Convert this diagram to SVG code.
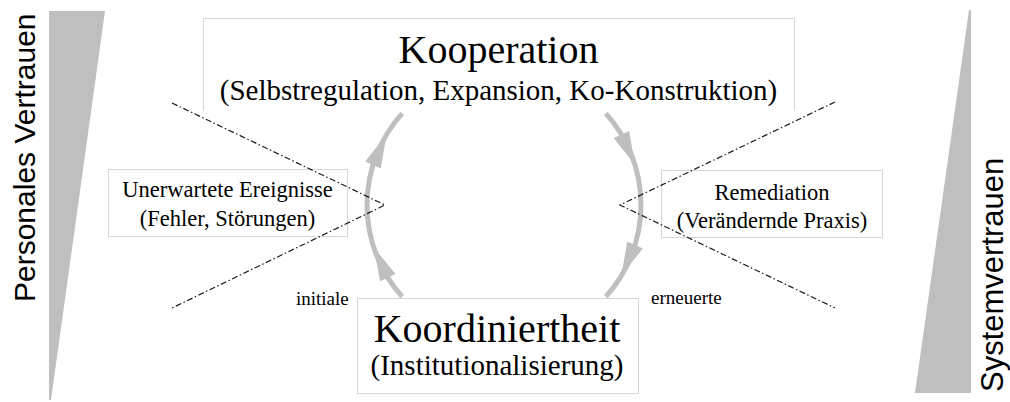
<svg xmlns="http://www.w3.org/2000/svg" width="1010" height="402" viewBox="0 0 1010 402">
<style>
.serif{font-family:"Liberation Serif","Times New Roman",serif;fill:#000}
.sans{font-family:"Liberation Sans",Arial,sans-serif;fill:#000}
.box{fill:#fff;stroke:#d6d6d6;stroke-width:1}
.edge{fill:none;stroke:#d6d6d6;stroke-width:1}
.wedge{fill:#bfbfbf}
.arc{fill:none;stroke:#bfbfbf;stroke-width:5}
.head{fill:#bfbfbf}
.dd{fill:none;stroke:#1a1a1a;stroke-width:1.2;stroke-dasharray:6 2.5 1.5 2.5}
</style>
<rect width="1010" height="402" fill="#fff"/>
<g id="personales-vertrauen">
<polygon class="wedge" points="49,11 105,11 51,400 49,400"/>
<text class="sans" font-size="30" transform="translate(35,302) rotate(-90)">Personales Vertrauen</text>
</g>
<g id="systemvertrauen">
<polygon class="wedge" points="969,10 971,10 971,393 915,393"/>
<text class="sans" font-size="31" transform="translate(1002.5,392) rotate(-90)">Systemvertrauen</text>
</g>
<g id="connectors">
<path class="arc" d="M402.19,296.67 A137,137 0 0 1 402.19,113.33"/>
<path class="arc" d="M605.81,113.33 A137,137 0 0 1 605.81,296.67"/>
<polygon class="head" points="373.70,247.34 395.52,274.01 380.12,281.19"/>
<polygon class="head" points="386.57,134.44 380.75,168.40 365.23,161.48"/>
<polygon class="head" points="635.01,164.94 613.67,137.90 629.19,130.98"/>
<polygon class="head" points="621.43,275.56 627.25,241.60 642.77,248.52"/>
</g>
<g id="kooperation">
<rect x="203" y="18" width="591" height="93" fill="#fff"/>
<path class="edge" d="M203.5,111 V18.5 H794.5 V111"/>
<text class="serif" font-size="40" x="498.5" y="63" text-anchor="middle">Kooperation</text>
<text class="serif" font-size="29" x="498.5" y="100" text-anchor="middle">(Selbstregulation, Expansion, Ko-Konstruktion)</text>
</g>
<g id="koordiniertheit">
<rect class="box" x="357.5" y="298.5" width="281" height="95"/>
<text class="serif" font-size="40" x="497" y="342" text-anchor="middle">Koordiniertheit</text>
<text class="serif" font-size="29" x="497" y="375" text-anchor="middle">(Institutionalisierung)</text>
</g>
<g id="unerwartete-ereignisse">
<rect class="box" x="108.5" y="169.5" width="239" height="67"/>
<text class="serif" font-size="22.5" x="227.5" y="197" text-anchor="middle">Unerwartete Ereignisse</text>
<text class="serif" font-size="22.5" x="227.5" y="226" text-anchor="middle">(Fehler, Störungen)</text>
</g>
<g id="remediation">
<rect class="box" x="661.5" y="170.5" width="221" height="67"/>
<text class="serif" font-size="22.5" x="772" y="200" text-anchor="middle">Remediation</text>
<text class="serif" font-size="22.5" x="772" y="228" text-anchor="middle">(Verändernde Praxis)</text>
</g>
<g id="boundaries">
<polyline class="dd" points="172,103 385,205 172,308"/>
<polyline class="dd" points="835,102 620,205 835,308"/>
</g>
<g id="labels">
<text class="serif" font-size="19" x="296" y="305">initiale</text>
<text class="serif" font-size="19" x="651" y="304">erneuerte</text>
</g>
</svg>
